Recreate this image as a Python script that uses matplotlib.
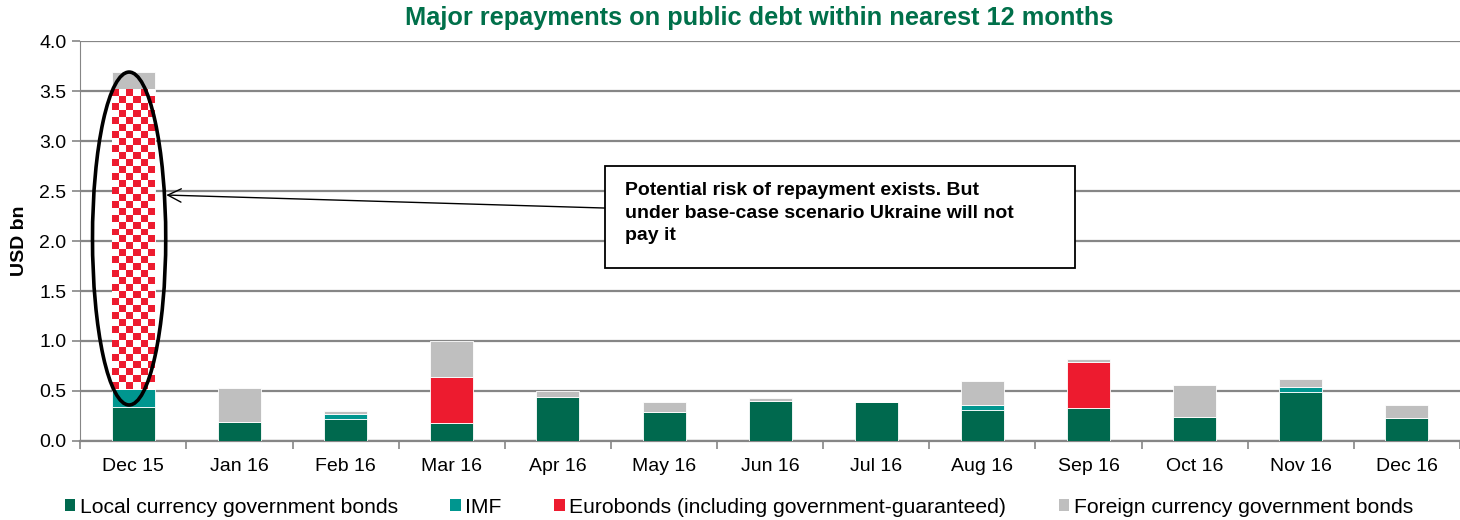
import numpy as np
import matplotlib
matplotlib.use("Agg")
import matplotlib.pyplot as plt
from matplotlib.patches import Ellipse, Rectangle, Patch

plt.rcParams["font.family"] = ["Liberation Sans", "DejaVu Sans"]

# Repayment schedule, USD bn
months = ["Dec 15", "Jan 16", "Feb 16", "Mar 16", "Apr 16", "May 16", "Jun 16",
          "Jul 16", "Aug 16", "Sep 16", "Oct 16", "Nov 16", "Dec 16"]
local_bonds = [0.34, 0.19, 0.22, 0.18, 0.44, 0.29, 0.40, 0.39, 0.31, 0.33, 0.24, 0.49, 0.23]
imf = [0.18, 0.00, 0.05, 0.00, 0.00, 0.00, 0.00, 0.00, 0.05, 0.00, 0.00, 0.05, 0.00]
eurobonds = [3.00, 0.00, 0.00, 0.46, 0.00, 0.00, 0.00, 0.00, 0.00, 0.46, 0.00, 0.00, 0.00]
foreign_bonds = [0.17, 0.34, 0.03, 0.36, 0.06, 0.10, 0.03, 0.00, 0.24, 0.03, 0.32, 0.08, 0.13]

labels = ["Local currency government bonds", "IMF",
          "Eurobonds (including government-guaranteed)",
          "Foreign currency government bonds"]
colors = ["#00694E", "#00968F", "#ED1B2F", "#BFBFBF"]
note = ("Potential risk of repayment exists. But\n"
        "under base-case scenario Ukraine will not\n"
        "pay it")

fig = plt.figure(figsize=(14.6, 5.2), dpi=100)
ax = fig.add_axes([0.055, 0.152, 0.945, 0.769])

x = np.arange(len(months))
width = 0.405
bottom = np.zeros(len(months))
bars = []
for vals, col in zip([local_bonds, imf, eurobonds, foreign_bonds], colors):
    b = ax.bar(x, vals, width, bottom=bottom, color=col, edgecolor="white",
               linewidth=0.6, zorder=3)
    bars.append(b)
    bottom += np.array(vals)

# Dec 15 eurobond payment drawn as a red/white checkerboard (uncertain repayment)
risky = bars[2][0]
risky.set_facecolor("white")
bx, by, bw, bh = risky.get_x(), risky.get_y(), risky.get_width(), risky.get_height()
ncols, nrows = 6, 43
checker = (np.indices((nrows, ncols)).sum(axis=0) % 2).astype(float)
img = ax.imshow(checker, cmap=matplotlib.colors.ListedColormap(["#ED1B2F", "white"]),
                extent=[bx, bx + bw, by, by + bh], aspect="auto",
                interpolation="nearest", zorder=4)
img.set_clip_path(risky)

ax.add_patch(Ellipse((-0.04, 2.025), 0.69, 3.33, fill=False, edgecolor="black",
                     linewidth=2.6, zorder=6))

ax.add_patch(Rectangle((4.44, 1.73), 4.43, 1.02, fill=True, facecolor="white",
                       edgecolor="black", linewidth=1.3, zorder=6))
ax.text(4.63, 2.28, note, fontsize=14, fontweight="bold", ha="left", va="center",
        linespacing=1.4, zorder=7)
ax.annotate("", xy=(0.31, 2.46), xytext=(4.44, 2.33),
            arrowprops=dict(arrowstyle="->", color="black", lw=1.0,
                            mutation_scale=24, shrinkA=0, shrinkB=0), zorder=7)

ax.set_xlim(-0.5, len(months) - 0.5)
ax.set_ylim(0, 4.0)
ax.set_yticks(np.arange(0, 4.01, 0.5))
ax.set_yticklabels([f"{v:.1f}" for v in np.arange(0, 4.01, 0.5)], fontsize=14)
ax.set_xticks(x)
ax.set_xticklabels(months, fontsize=14)
ax.tick_params(axis="x", length=0, pad=12)
ax.set_xticks(np.arange(-0.5, len(months), 1), minor=True)
ax.tick_params(axis="x", which="minor", length=6, color="#868686", width=1.2)
ax.tick_params(axis="y", length=6, color="#868686", width=1.2, pad=4)

ax.grid(axis="y", color="#868686", linewidth=1.6, zorder=0)
ax.set_axisbelow(True)
for side in ["top", "right"]:
    ax.spines[side].set_visible(False)
ax.spines["left"].set_color("#868686")
ax.spines["bottom"].set_color("#868686")
ax.spines["bottom"].set_linewidth(1.6)

ax.set_ylabel("USD bn", fontsize=14, fontweight="bold", labelpad=8)
fig.text(0.52, 0.965, "Major repayments on public debt within nearest 12 months",
         ha="center", va="center", fontsize=18.3, fontweight="bold", color="#00704A")

handles = [Patch(facecolor=c) for c in colors]
fig.legend(handles, labels, loc="lower center", ncol=4, frameon=False,
           fontsize=15.2, bbox_to_anchor=(0.506, -0.03), handlelength=0.5,
           handleheight=0.5, handletextpad=0.2, columnspacing=2.5)

fig.savefig("out.png", dpi=100)
